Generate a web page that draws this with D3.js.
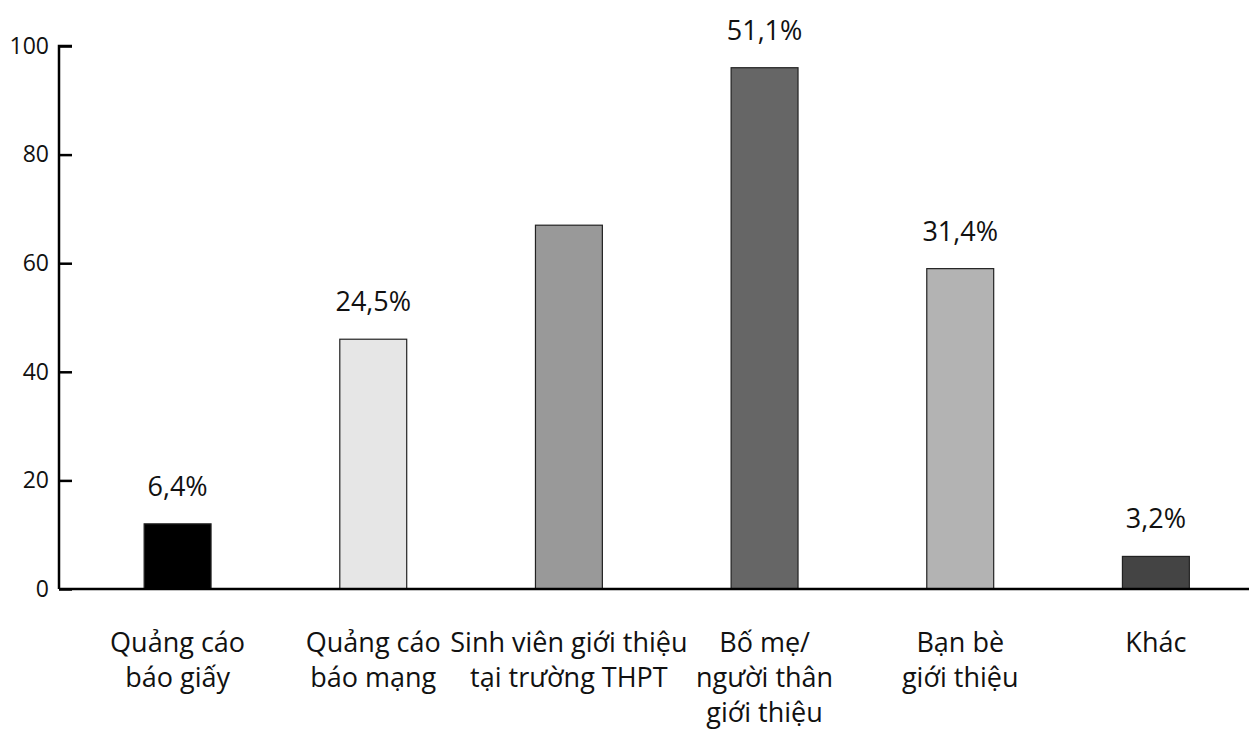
<!DOCTYPE html>
<html lang="vi">
<head>
<meta charset="utf-8">
<title>Nguồn thông tin</title>
<script src="https://cdn.jsdelivr.net/npm/d3@7"></script>
<style>
  html, body { margin: 0; padding: 0; background: #fff; }
  svg { display: block; font-family: "Open Sans", "Noto Sans", sans-serif; }
</style>
</head>
<body>
<svg id="chart" width="1249" height="731"></svg>
<script>
// Số người trả lời theo từng kênh thông tin
const categories = [
  ["Quảng cáo", "báo giấy"],
  ["Quảng cáo", "báo mạng"],
  ["Sinh viên giới thiệu", "tại trường THPT"],
  ["Bố mẹ/", "người thân", "giới thiệu"],
  ["Bạn bè", "giới thiệu"],
  ["Khác"]
];
const counts = [12, 46, 67, 96, 59, 6];
const valueLabels = ["6,4%", "24,5%", "", "51,1%", "31,4%", "3,2%"];
const barColors = ["#000000", "#e6e6e6", "#999999", "#666666", "#b3b3b3", "#444444"];
const yTicks = [0, 20, 40, 60, 80, 100];

const svg = d3.select("#chart");
const W = +svg.attr("width"), H = +svg.attr("height");
const margin = { top: 46, right: 0, bottom: 142, left: 59 };
const iw = W - margin.left - margin.right;
const ih = H - margin.top - margin.bottom;

const g = svg.append("g").attr("transform", `translate(${margin.left},${margin.top})`);

const x = d3.scaleBand()
  .domain(d3.range(categories.length))
  .range([0, iw])
  .paddingInner(0.658)
  .paddingOuter(0.37)
  .align(0.588);

const y = d3.scaleLinear().domain([0, 100]).range([ih, 0]);

// Trục tung: vạch chia hướng vào trong
const yAxis = g.append("g")
  .call(d3.axisLeft(y).tickValues(yTicks).tickSize(-13).tickPadding(10).tickFormat(d3.format("d")))
  .attr("font-family", null)
  .attr("font-size", null);
yAxis.select(".domain").attr("stroke", "#000").attr("stroke-width", 2.5).attr("d", `M0,${ih}V0H13`);
yAxis.selectAll(".tick line").attr("stroke", "#000").attr("stroke-width", 2.5);
yAxis.selectAll(".tick text")
  .attr("fill", "#111")
  .style("font-size", "23px");

// Cột
g.selectAll("rect.bar")
  .data(counts)
  .join("rect")
  .attr("class", "bar")
  .attr("x", (d, i) => x(i))
  .attr("y", d => y(d))
  .attr("width", x.bandwidth())
  .attr("height", d => y(0) - y(d))
  .attr("fill", (d, i) => barColors[i])
  .attr("stroke", "#222")
  .attr("stroke-width", 1.2);

// Trục hoành
g.append("line")
  .attr("x1", 0).attr("x2", iw)
  .attr("y1", y(0)).attr("y2", y(0))
  .attr("stroke", "#000").attr("stroke-width", 2.5);

// Nhãn phần trăm trên đầu cột
g.selectAll("text.value")
  .data(counts)
  .join("text")
  .attr("class", "value")
  .attr("x", (d, i) => x(i) + x.bandwidth() / 2)
  .attr("y", d => y(d) - 28)
  .attr("text-anchor", "middle")
  .attr("fill", "#111")
  .style("font-size", "27px")
  .text((d, i) => valueLabels[i]);

// Tên kênh dưới trục hoành
const cat = g.selectAll("text.cat")
  .data(categories)
  .join("text")
  .attr("class", "cat")
  .attr("text-anchor", "middle")
  .attr("fill", "#111")
  .style("font-size", "27px")
  .attr("transform", (d, i) => `translate(${x(i) + x.bandwidth() / 2},${ih + 63})`);
cat.selectAll("tspan")
  .data(d => d)
  .join("tspan")
  .attr("x", 0)
  .attr("dy", (d, j) => j === 0 ? 0 : 35)
  .text(d => d);
</script>
</body>
</html>
